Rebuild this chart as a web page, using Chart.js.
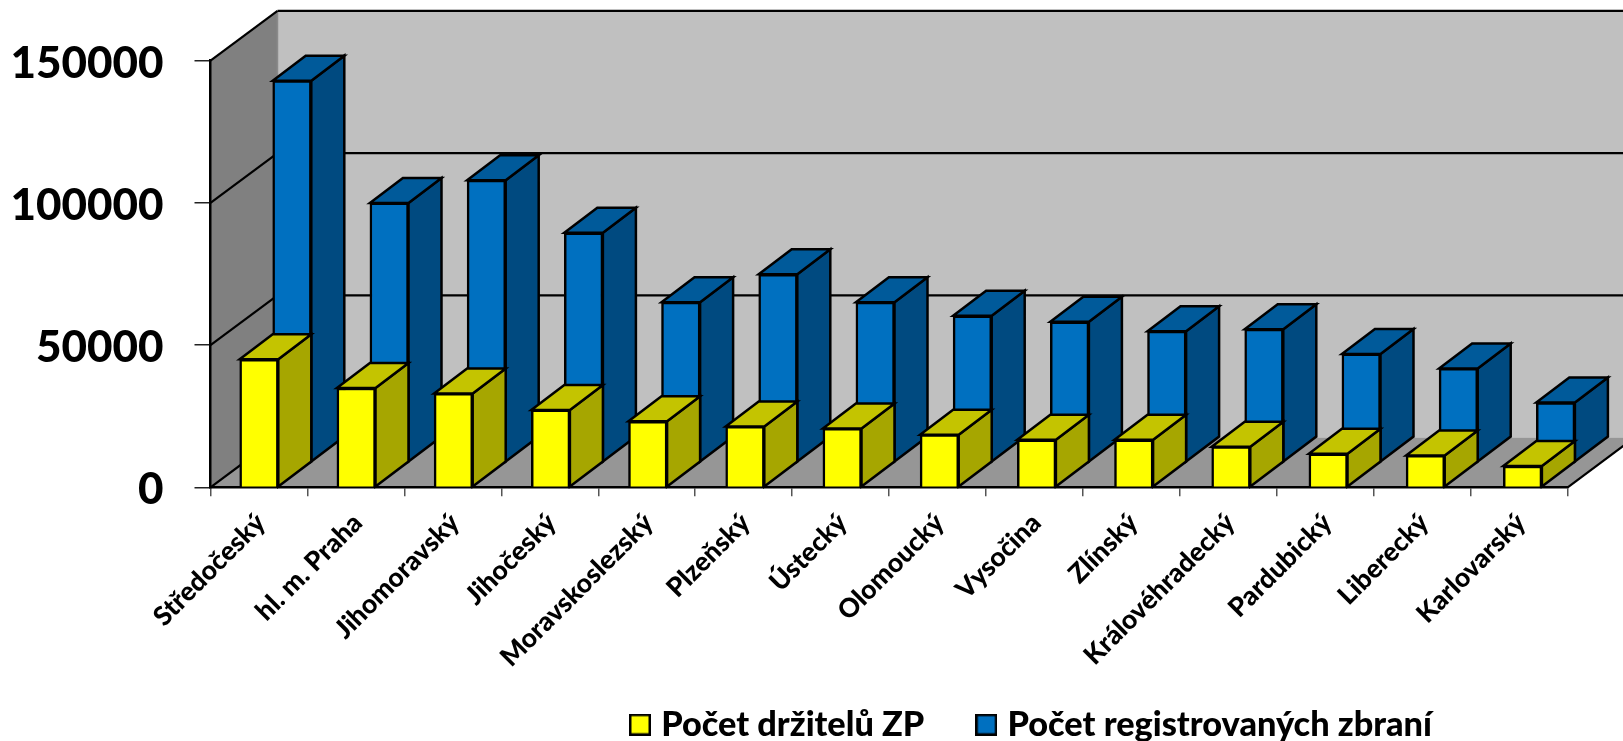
<!DOCTYPE html>
<html><head><meta charset="utf-8">
<style>html,body{margin:0;padding:0;background:#fff}canvas{display:block}</style>
<script src="https://cdn.jsdelivr.net/npm/chart.js@4"></script>
</head><body><canvas id="c" width="1623" height="741"></canvas>
<script>
const categories = ["Středočeský","hl. m. Praha","Jihomoravský","Jihočeský","Moravskoslezský","Plzeňský","Ústecký","Olomoucký","Vysočina","Zlínský","Královéhradecký","Pardubický","Liberecký","Karlovarský"];
const drzitele = [45000,34900,33000,27200,23200,21400,20700,18500,16700,16700,14300,11800,11200,7500];
const zbrane = [134200,91200,99200,80700,56300,66100,56300,51500,49400,46100,46800,38100,33000,21000];
const seriesNames = ["Počet držitelů ZP","Počet registrovaných zbraní"];
const yMax = 150000, yStep = 50000;

const FONT = 'Lato, Carlito, sans-serif';
const DEPTH = {dx: 67, dy: -49.8};      // wall depth
const BAR = {dx: 33, dy: -25};          // bar depth
const LEFT = 210.5, RIGHT = 1567.7, TOP = 60.7, BOTTOM = 487.3;
const BAR_LEFT = 210.4, BAR_RIGHT = 1571.2; // the bars run on a slightly wider hidden band axis

const faces = [
  {front:'#ffff00', top:'#c4c400', side:'#a6a600', shift:[0,0]},
  {front:'#0070c0', top:'#005a9a', side:'#004a80', shift:[BAR.dx,BAR.dy]}
];

function poly(ctx, pts, fill, stroke, lw){
  ctx.beginPath();
  pts.forEach((p,i)=> i?ctx.lineTo(p[0],p[1]):ctx.moveTo(p[0],p[1]));
  ctx.closePath();
  if(fill){ctx.fillStyle=fill;ctx.fill();}
  if(stroke){ctx.strokeStyle=stroke;ctx.lineWidth=lw||2.5;ctx.lineJoin='miter';ctx.stroke();}
}
function line(ctx,a,b,c,w){ctx.beginPath();ctx.moveTo(a[0],a[1]);ctx.lineTo(b[0],b[1]);ctx.strokeStyle=c||'#000';ctx.lineWidth=w||2.2;ctx.stroke();}

const box3d = {
  id:'box3d',
  afterLayout(chart){
    const lg = chart.legend, p = lg.options.labels.padding;
    lg.left = 636 - p; lg.right = 1623; lg.top = 707.5 - p;
    const xb = chart.scales.xb;
    xb.left = BAR_LEFT; xb.right = BAR_RIGHT; xb.configure();
    chart.scales.x.bottom = 741;
  },
  beforeDraw(chart){
    const {ctx} = chart, x = chart.scales.x, y = chart.scales.y;
    const l=x.left, r=x.right, b=y.bottom, t=y.top, d=DEPTH;
    ctx.save();
    poly(ctx,[[l+d.dx,t+d.dy],[1623,t+d.dy],[1623,b+d.dy],[l+d.dx,b+d.dy]],'#c0c0c0');
    poly(ctx,[[l,t],[l+d.dx,t+d.dy],[l+d.dx,b+d.dy],[l,b]],'#808080');
    poly(ctx,[[l,b],[r,b],[r+d.dx,b+d.dy],[l+d.dx,b+d.dy]],'#969696');
    line(ctx,[l+d.dx,t+d.dy],[l+d.dx,b+d.dy],'#8a8a8a',1.5);
    y.ticks.forEach(tk=>{
      const py = y.getPixelForValue(tk.value);
      if(tk.value>0){
        line(ctx,[l,py],[l+d.dx,py+d.dy]);
        line(ctx,[l+d.dx,py+d.dy],[1623,py+d.dy]);
      }
    });
    line(ctx,[l,b],[l+d.dx,b+d.dy]);
    line(ctx,[r,b],[r+d.dx,b+d.dy]);
    ctx.restore();
  },
  beforeDatasetDraw(chart,args){
    const {ctx} = chart, f = faces[args.index];
    ctx.save();
    ctx.translate(f.shift[0],f.shift[1]);
    args.meta.data.forEach(el=>{
      const p = el.getProps(['x','y','base','width'],true);
      const a = p.x-p.width/2, c = p.x+p.width/2, tp = p.y, bt = p.base;
      poly(ctx,[[c,tp],[c,bt],[c+BAR.dx,bt+BAR.dy],[c+BAR.dx,tp+BAR.dy]],f.side,'#000');
      poly(ctx,[[a,tp],[c,tp],[c+BAR.dx,tp+BAR.dy],[a+BAR.dx,tp+BAR.dy]],f.top,'#000');
    });
  },
  afterDatasetDraw(chart){ chart.ctx.restore(); }
};

function swatch(color){
  const cv = document.createElement('canvas'); cv.width=22; cv.height=22;
  const g = cv.getContext('2d');
  g.fillStyle='#000'; g.fillRect(0,0,22,22);
  g.fillStyle=color; g.fillRect(2.5,2.5,17,17);
  return cv;
}

new Chart(document.getElementById('c'),{
  type:'bar',
  data:{labels:categories,datasets:[
    {label:seriesNames[0],data:drzitele,xAxisID:'xb',backgroundColor:faces[0].front,borderColor:'#000',borderWidth:2.5,barThickness:38.6,grouped:false,clip:false,pointStyle:swatch(faces[0].front)},
    {label:seriesNames[1],data:zbrane,xAxisID:'xb',backgroundColor:faces[1].front,borderColor:'#000',borderWidth:2.5,barThickness:38.6,grouped:false,clip:false,pointStyle:swatch(faces[1].front)}
  ]},
  plugins:[box3d],
  options:{
    responsive:false,animation:false,
    events:[],
    layout:{autoPadding:false,padding:{top:TOP,right:1623-RIGHT,left:0,bottom:0}},
    plugins:{
      tooltip:{enabled:false},
      legend:{display:true,position:'bottom',align:'start',
        labels:{usePointStyle:true,boxWidth:8,boxHeight:8,padding:58,color:'#000',
          font:{family:FONT,size:34.3,weight:'900'}}}
    },
    scales:{
      xb:{type:'category',axis:'x',labels:categories,offset:true,display:false},
      x:{
        type:'category',axis:'x',labels:categories,
        offset:true,
        afterFit(s){ s.height = 741-BOTTOM-(s.chart.legend?s.chart.legend.height:0); },
        grid:{drawOnChartArea:false,drawTicks:true,tickLength:9,tickColor:'#555',lineWidth:1.5,offset:true},
        border:{display:true,color:'#000',width:2.5},
        ticks:{autoSkip:false,maxRotation:45,minRotation:45,padding:11,labelOffset:2,color:'#000',font:{family:FONT,size:26.5,weight:'900'}}
      },
      y:{
        min:0,max:yMax,
        afterFit(s){ s.width = LEFT; },
        grid:{drawOnChartArea:false,drawTicks:true,tickLength:16,tickColor:'#222',lineWidth:1.5},
        border:{display:true,color:'#000',width:2.5},
        ticks:{stepSize:yStep,padding:31,labelOffset:3,color:'#000',font:{family:FONT,size:44,weight:'900'},callback:v=>String(v)}
      }
    }
  }
});
</script></body></html>
